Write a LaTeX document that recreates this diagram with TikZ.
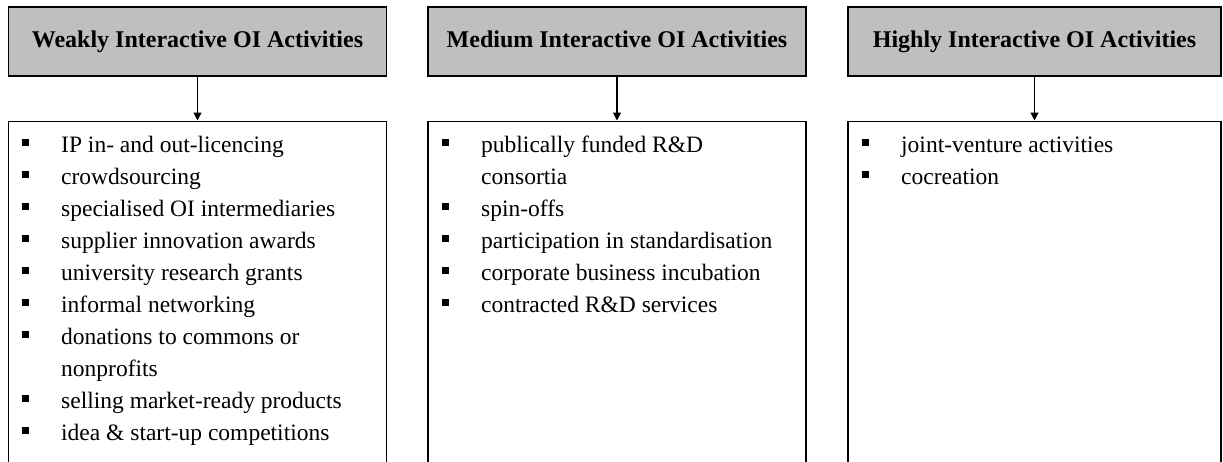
\documentclass[tikz,border=0pt]{standalone}
\usepackage{fontspec}
\setmainfont{Liberation Serif}
\usetikzlibrary{arrows.meta}
\definecolor{headgray}{RGB}{191,191,191}

\tikzset{
    head/.style={draw, fill=headgray, line width=1.2pt, minimum width=378pt, minimum height=69pt, inner sep=0pt, text height=16pt, text depth=5pt, font=\bfseries\fontsize{24}{28}\selectfont},
    listbox/.style={draw, line width=1.2pt, minimum width=378pt, minimum height=360pt, inner sep=0pt, anchor=north},
    entry/.style={anchor=base west, inner sep=0pt, font=\fontsize{23.5}{32}\selectfont},
    link/.style={-{Triangle[length=8pt,width=8pt]}, line width=1.1pt},
}

\begin{document}
\begin{tikzpicture}[x=1pt, y=1pt]
        \useasboundingbox (0,0) rectangle (1223,-461);
        \clip (0,0) rectangle (1223,-461);

        % headers
        \node[head] (head1) at (197.5,-41.5) {Weakly Interactive OI Activities};
        \node[head] (head2) at (617,-41.5) {Medium Interactive OI Activities};
        \node[head, minimum width=373pt] (head3) at (1034.5,-41.5) {Highly Interactive OI Activities};

        % lists
        \node[listbox] (list1) at (197.5,-120.5) {};
        \node[listbox] (list2) at (617,-120.5) {};
        \node[listbox, minimum width=373pt] (list3) at (1034.5,-120.5) {};

        \draw[link] (head1) -- (list1);
        \draw[link] (head2) -- (list2);
        \draw[link] (head3) -- (list3);

        \foreach \b/\t [count=\i] in {1/IP in- and out-licencing, 1/crowdsourcing, 1/specialised OI intermediaries,
                1/supplier innovation awards, 1/university research grants, 1/informal networking,
                1/donations to commons or, 0/nonprofits, 1/selling market-ready products, 1/idea \& start-up competitions} {
            \node[entry] (weak\i) at (61,{-152-32*(\i-1)}) {\t};
            \ifnum\b=1 \fill ([xshift=-39pt, yshift=6.3pt]weak\i.base west) rectangle ++(6.5,6.5); \fi
        }

        \foreach \b/\t [count=\i] in {1/publically funded R\&D, 0/consortia, 1/spin-offs,
                1/participation in standardisation, 1/corporate business incubation, 1/contracted R\&D services} {
            \node[entry] (medium\i) at (481,{-152-32*(\i-1)}) {\t};
            \ifnum\b=1 \fill ([xshift=-39pt, yshift=6.3pt]medium\i.base west) rectangle ++(6.5,6.5); \fi
        }

        \foreach \b/\t [count=\i] in {1/joint-venture activities, 1/cocreation} {
            \node[entry] (high\i) at (901,{-152-32*(\i-1)}) {\t};
            \ifnum\b=1 \fill ([xshift=-39pt, yshift=6.3pt]high\i.base west) rectangle ++(6.5,6.5); \fi
        }
\end{tikzpicture}
\end{document}
